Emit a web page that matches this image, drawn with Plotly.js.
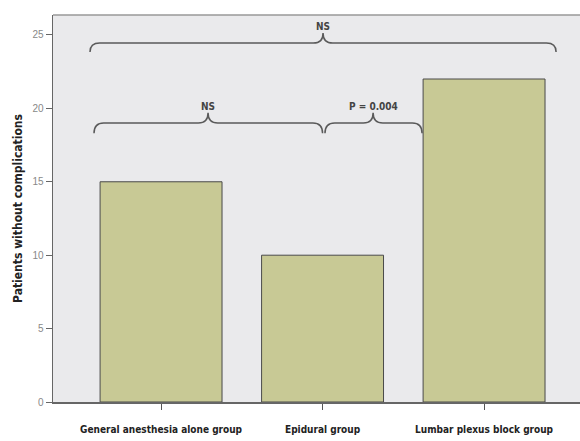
<!DOCTYPE html>
<html>
<head>
<meta charset="utf-8">
<script src="https://cdn.plot.ly/plotly-3.0.1.min.js"></script>
<style>html,body{margin:0;padding:0;background:#fff}</style>
</head>
<body>
<div id="chart" style="width:580px;height:441px"></div>
<script>
var categories = ["General anesthesia alone group", "Epidural group", "Lumbar plexus block group"];
var patients = [15, 10, 22];
var yTicks = [0, 5, 10, 15, 20, 25];
var comparisons = [
  {from: 0, to: 2, label: "NS"},
  {from: 0, to: 1, label: "NS"},
  {from: 1, to: 2, label: "P = 0.004"}
];

var xPos = categories.map(function(_, i){ return i; });

// bracket geometry (layout only)
var braceGeom = [
  {x0: -0.44, x1: 2.446, xc: 1.003, yEnd: 23.84, yLine: 24.45, yPeak: 25.14, yText: 25.55},
  {x0: -0.415, x1: 1.0, xc: 0.291, yEnd: 18.3, yLine: 19.0, yPeak: 19.7, yText: 20.15},
  {x0: 1.015, x1: 1.616, xc: 1.313, yEnd: 18.3, yLine: 19.0, yPeak: 19.7, yText: 20.15}
];

function bracePath(g) {
  var dx = 0.06;
  return "M" + g.x0 + "," + g.yEnd +
    " Q" + g.x0 + "," + g.yLine + " " + (g.x0 + dx) + "," + g.yLine +
    " L" + (g.xc - dx) + "," + g.yLine +
    " Q" + g.xc + "," + g.yLine + " " + g.xc + "," + g.yPeak +
    " Q" + g.xc + "," + g.yLine + " " + (g.xc + dx) + "," + g.yLine +
    " L" + (g.x1 - dx) + "," + g.yLine +
    " Q" + g.x1 + "," + g.yLine + " " + g.x1 + "," + g.yEnd;
}

var labelFont = "DejaVu Sans Condensed, Liberation Sans Narrow, Liberation Sans, sans-serif";

var shapes = braceGeom.map(function(g){
  return {type: "path", xref: "x", yref: "y", path: bracePath(g),
          line: {color: "#5a5a5a", width: 1.5}};
});
var annotations = comparisons.map(function(c, i){
  var g = braceGeom[i];
  return {x: g.xc, y: g.yText, xref: "x", yref: "y", text: "<b>" + c.label + "</b>", showarrow: false,
          yanchor: "middle", font: {family: labelFont, size: 10, color: "#444"}};
});

var trace = {
  type: "bar",
  x: xPos,
  y: patients,
  width: 0.755,
  marker: {color: "#C8C995", line: {color: "#4a4a4a", width: 1}},
  hoverinfo: "skip"
};

var layout = {
  width: 580, height: 441,
  margin: {l: 53, r: 0, t: 15, b: 39},
  paper_bgcolor: "#ffffff",
  plot_bgcolor: "#EAEAEC",
  showlegend: false,
  shapes: shapes,
  annotations: annotations,
  xaxis: {
    range: [-0.669, 2.594],
    tickvals: xPos,
    ticktext: categories.map(function(c){ return "<b>" + c + "</b>"; }),
    ticks: "outside", ticklen: 6, tickcolor: "#555", tickwidth: 1,
    ticklabelstandoff: 11,
    showline: true, linecolor: "#666", linewidth: 1.5, mirror: false,
    showgrid: false, zeroline: false,
    tickfont: {family: labelFont, size: 10, color: "#222"}
  },
  yaxis: {
    range: [0, 26.36],
    tickvals: yTicks,
    ticks: "outside", ticklen: 6, tickcolor: "#666", tickwidth: 1,
    showline: true, linecolor: "#666", linewidth: 1.5,
    showgrid: false, zeroline: false,
    tickfont: {family: "Liberation Sans, Arial, sans-serif", size: 10, color: "#888"},
    title: {text: "<b>Patients without complications</b>", standoff: 7,
            font: {family: labelFont, size: 12, color: "#222"}}
  }
};
layout.shapes.push({type: "line", xref: "paper", yref: "paper", x0: 0, x1: 1, y0: 1, y1: 1,
                    line: {color: "#999", width: 1.5}});

Plotly.newPlot("chart", [trace], layout, {staticPlot: true, displayModeBar: false});
</script>
</body>
</html>
